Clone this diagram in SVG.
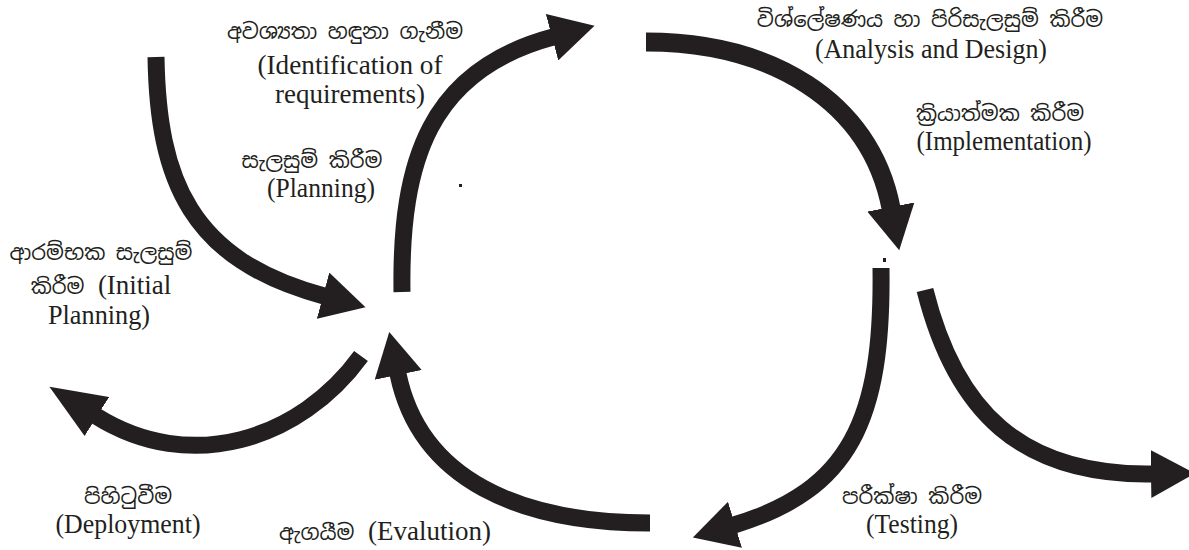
<svg xmlns="http://www.w3.org/2000/svg" width="1189" height="550" viewBox="0 0 1189 550">
<style>
.arrow{fill:none;stroke:#231f20;stroke-width:17;stroke-linecap:butt;marker-end:url(#head)}
.en{font-family:"Liberation Serif","Times New Roman",serif;font-size:28px;fill:#231f20;text-anchor:middle}
.si{font-family:"Noto Sans Sinhala","Noto Serif Sinhala","Iskoola Pota","Liberation Serif",serif;font-size:21px;fill:#231f20;text-anchor:middle}
.sit{font-family:"Noto Sans Sinhala","Noto Serif Sinhala","Iskoola Pota","Liberation Serif",serif;font-size:21px}
</style>
<defs>
<marker id="head" markerUnits="userSpaceOnUse" markerWidth="46" markerHeight="48" refX="1" refY="24" orient="auto" viewBox="0 0 46 48"><path d="M0,0 L44,24 L0,48 Z" fill="#231f20"/></marker>
<marker id="headLong" markerUnits="userSpaceOnUse" markerWidth="58" markerHeight="46" refX="1" refY="23" orient="auto" viewBox="0 0 58 46"><path d="M0,0 L56,23 L0,46 Z" fill="#231f20"/></marker>
</defs>
<rect width="1189" height="550" fill="#ffffff"/>
<g id="connectors">
<path id="arrow-initial" class="arrow" d="M156,57 C 158,180 190,260 324,296"/>
<path id="arrow-planning" class="arrow" d="M402,292 C 400,160 430,70 553,37"/>
<path id="arrow-analysis" class="arrow" style="stroke-width:19" d="M646,42 C 770,42 870,100 891,208"/>
<path id="arrow-implementation" class="arrow" d="M881,268 C 883,420 850,490 734,525"/>
<path id="arrow-testing" class="arrow" d="M925,290 C 955,410 1020,476 1152,474"/>
<path id="arrow-evaluation" class="arrow" d="M650,523 C 520,523 420,480 398,374"/>
<path id="arrow-deployment" class="arrow" style="marker-end:url(#headLong)" d="M361,356 C 300,440 190,475 96,416"/>
<rect x="459" y="184" width="3" height="3" fill="#231f20"/>
<rect x="883" y="258" width="3" height="4" fill="#231f20"/>
</g>
<g id="node-requirements">
<text class="si" x="345" y="39">අවශ්‍යතා හඳුනා ගැනීම</text>
<text class="en" x="350" y="74" textLength="185" lengthAdjust="spacingAndGlyphs">(Identification of</text>
<text class="en" x="350" y="103" textLength="150" lengthAdjust="spacingAndGlyphs">requirements)</text>
</g>
<g id="node-planning">
<text class="si" x="312" y="168">සැලසුම් කිරීම</text>
<text class="en" x="321" y="197" textLength="108" lengthAdjust="spacingAndGlyphs">(Planning)</text>
</g>
<g id="node-initial-planning">
<text class="si" x="101" y="260">ආරම්භක සැලසුම්</text>
<text class="en" x="101" y="294" style="font-size:27px" xml:space="preserve"><tspan class="sit">කිරීම</tspan>  (Initial</text>
<text class="en" x="99" y="324" textLength="102" lengthAdjust="spacingAndGlyphs">Planning)</text>
</g>
<g id="node-deployment">
<text class="si" x="128" y="504">පිහිටුවීම</text>
<text class="en" x="128" y="533" textLength="145" lengthAdjust="spacingAndGlyphs">(Deployment)</text>
</g>
<g id="node-evaluation">
<text class="en" x="385" y="540" style="font-size:27px" xml:space="preserve"><tspan class="sit">ඇගයීම</tspan>  (Evalution)</text>
</g>
<g id="node-testing">
<text class="si" x="912" y="504">පරීක්ෂා කිරීම</text>
<text class="en" x="912" y="533" textLength="92" lengthAdjust="spacingAndGlyphs">(Testing)</text>
</g>
<g id="node-implementation">
<text class="si" x="1000" y="121">ක්‍රියාත්මක කිරීම</text>
<text class="en" x="1004" y="150" textLength="175" lengthAdjust="spacingAndGlyphs">(Implementation)</text>
</g>
<g id="node-analysis">
<text class="si" x="930" y="27">විශ්ලේෂණය හා පිරිසැලසුම් කිරීම</text>
<text class="en" x="931" y="58" textLength="232" lengthAdjust="spacingAndGlyphs">(Analysis and Design)</text>
</g>
</svg>
